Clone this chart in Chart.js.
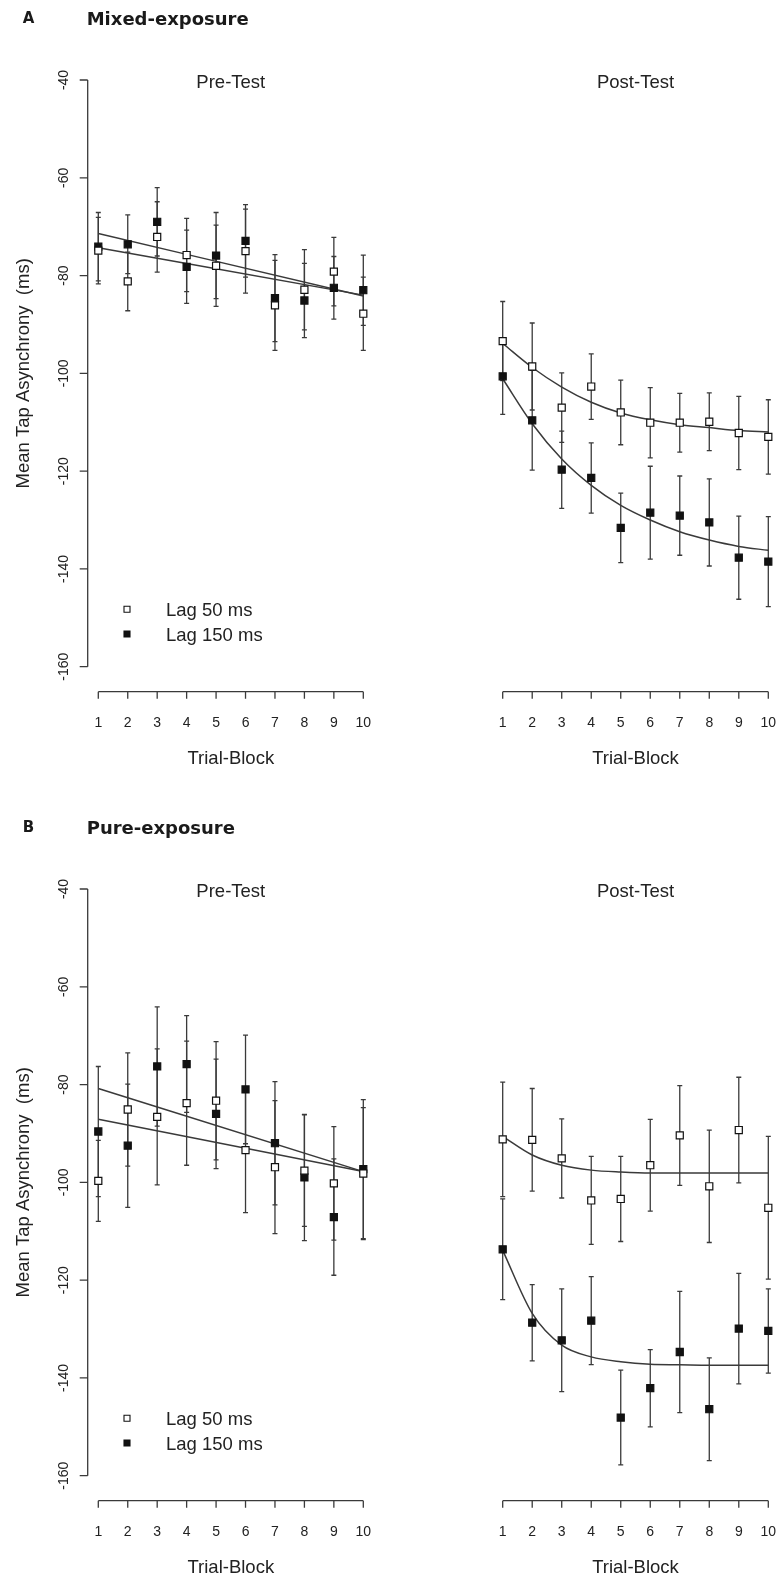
<!DOCTYPE html>
<html>
<head>
<meta charset="utf-8">
<title>Mean Tap Asynchrony</title>
<script src="https://cdn.jsdelivr.net/npm/chart.js@4.4.1/dist/chart.umd.min.js"></script>
<style>
  body { margin: 0; background: #fff; }
  #page { position: relative; width: 778px; height: 1577px; overflow: hidden; background: #fff; }
  canvas { position: absolute; }
</style>
</head>
<body>
<div id="page">
  <canvas id="mixedPre"  style="left:0;top:0"     width="389" height="768"></canvas>
  <canvas id="mixedPost" style="left:389px;top:0" width="389" height="768"></canvas>
  <canvas id="purePre"   style="left:0;top:809px"     width="389" height="768"></canvas>
  <canvas id="purePost"  style="left:389px;top:809px" width="389" height="768"></canvas>
</div>
<script>
// ---- data ----
const trialBlocks = [1, 2, 3, 4, 5, 6, 7, 8, 9, 10];
const yTicks = [-40, -60, -80, -100, -120, -140, -160];
const fitEnds = [1, 10];
const seriesNames = ['Lag 50 ms', 'Lag 150 ms'];

// A: mixed-exposure, pre-test
const mixedPreLag50     = [-74.9, -81.2, -72.1, -75.8, -78.0, -75.0, -86.1, -82.9, -79.2, -87.8];
const mixedPreLag50Err  = [6.8, 6.0, 7.2, 7.5, 8.3, 8.6, 9.2, 8.2, 7.0, 7.5];
const mixedPreLag150    = [-74.1, -73.6, -69.0, -78.2, -75.9, -72.9, -84.6, -85.1, -82.5, -83.0];
const mixedPreLag150Err = [7.0, 6.0, 7.0, 7.5, 8.8, 7.4, 8.9, 7.6, 6.4, 7.2];
const mixedPreFit50  = [-71.4, -84.2];
const mixedPreFit150 = [-74.3, -84.0];

// A: mixed-exposure, post-test
const mixedPostLag50     = [-93.4, -98.6, -107.0, -102.7, -108.0, -110.1, -110.1, -109.9, -112.2, -113.0];
const mixedPostLag50Err  = [8.1, 8.9, 7.1, 6.7, 6.6, 7.2, 6.0, 5.9, 7.5, 7.6];
const mixedPostLag150    = [-100.6, -109.6, -119.7, -121.4, -131.6, -128.5, -129.1, -130.5, -137.7, -138.5];
const mixedPostLag150Err = [7.8, 10.2, 7.9, 7.2, 7.1, 9.5, 8.1, 8.9, 8.5, 9.2];
const mixedPostFit50  = [-93.9, -98.8, -102.8, -105.9, -108.1, -109.5, -110.5, -111.1, -111.7, -112.0];
const mixedPostFit150 = [-101.1, -110.3, -117.5, -122.9, -127.0, -130.0, -132.4, -134.1, -135.4, -136.2];

// B: pure-exposure, pre-test
const purePreLag50     = [-99.7, -85.1, -86.6, -83.8, -83.3, -93.4, -96.9, -97.6, -100.2, -98.2];
const purePreLag50Err  = [8.3, 11.6, 13.9, 12.7, 12.1, 12.8, 13.6, 11.4, 11.6, 13.5];
const purePreLag150    = [-89.6, -92.5, -76.3, -75.8, -86.0, -81.0, -92.0, -99.0, -107.1, -97.3];
const purePreLag150Err = [13.3, 12.6, 12.2, 9.9, 11.2, 11.1, 12.6, 12.9, 11.9, 14.2];
const purePreFit50  = [-87.1, -97.8];
const purePreFit150 = [-80.8, -97.8];

// B: pure-exposure, post-test
const purePostLag50     = [-91.2, -91.3, -95.1, -103.7, -103.4, -96.5, -90.4, -100.8, -89.3, -105.2];
const purePostLag50Err  = [11.7, 10.5, 8.1, 9.0, 8.7, 9.4, 10.2, 11.5, 10.8, 14.6];
const purePostLag150    = [-113.7, -128.7, -132.3, -128.3, -148.1, -142.1, -134.7, -146.4, -129.9, -130.4];
const purePostLag150Err = [10.3, 7.8, 10.5, 9.0, 9.7, 7.9, 12.4, 10.5, 11.3, 8.6];
const purePostFit50  = [-90.6, -94.4, -96.5, -97.5, -97.9, -98.1, -98.1, -98.1, -98.1, -98.1];
const purePostFit150 = [-113.9, -126.8, -133.3, -135.7, -136.7, -137.2, -137.3, -137.4, -137.4, -137.4];

const INK = '#222';
const LINE = '#3a3a3a';
const SANS = '"Liberation Sans", Arial, sans-serif';

function pts(xs, ys) {
  return xs.map((x, i) => ({ x: x, y: ys[i] }));
}

// error bars go under the markers
function drawErrorBars(chart) {
  const ctx = chart.ctx, xs = chart.scales.x, ys = chart.scales.y;
  ctx.save();
  ctx.strokeStyle = LINE;
  ctx.lineWidth = 1.3;
  chart.data.datasets.forEach(ds => {
    if (!ds.err) return;
    ds.data.forEach((p, i) => {
      const px = xs.getPixelForValue(p.x);
      const top = ys.getPixelForValue(p.y + ds.err[i]);
      const bot = ys.getPixelForValue(p.y - ds.err[i]);
      ctx.beginPath();
      ctx.moveTo(px, top); ctx.lineTo(px, bot);
      ctx.moveTo(px - 2.5, top); ctx.lineTo(px + 2.5, top);
      ctx.moveTo(px - 2.5, bot); ctx.lineTo(px + 2.5, bot);
      ctx.stroke();
    });
  });
  ctx.restore();
}

// R style detached axes, titles and legend
function drawFrame(chart, o) {
  const ctx = chart.ctx, xs = chart.scales.x, ys = chart.scales.y, area = chart.chartArea;
  ctx.save();
  ctx.strokeStyle = LINE;
  ctx.fillStyle = INK;
  ctx.lineWidth = 1.3;

  // x axis
  const ay = area.bottom + 25;
  const x0 = xs.getPixelForValue(trialBlocks[0]);
  const x1 = xs.getPixelForValue(trialBlocks[trialBlocks.length - 1]);
  ctx.beginPath();
  ctx.moveTo(x0, ay); ctx.lineTo(x1, ay);
  trialBlocks.forEach(t => {
    const px = xs.getPixelForValue(t);
    ctx.moveTo(px, ay); ctx.lineTo(px, ay + 7);
  });
  ctx.stroke();
  ctx.textAlign = 'center';
  ctx.textBaseline = 'alphabetic';
  ctx.font = '14px ' + SANS;
  trialBlocks.forEach(t => ctx.fillText(String(t), xs.getPixelForValue(t), ay + 35));
  ctx.font = '18.5px ' + SANS;
  ctx.fillText('Trial-Block', (x0 + x1) / 2, ay + 72);

  // panel title
  ctx.fillText(o.title, (area.left + area.right) / 2, area.top + 7.5);

  if (o.yAxis) {
    const yx = area.left - 10.6;
    const yTop = ys.getPixelForValue(yTicks[0]);
    const yBot = ys.getPixelForValue(yTicks[yTicks.length - 1]);
    ctx.beginPath();
    ctx.moveTo(yx, yTop); ctx.lineTo(yx, yBot);
    yTicks.forEach(v => {
      const py = ys.getPixelForValue(v);
      ctx.moveTo(yx, py); ctx.lineTo(yx - 8, py);
    });
    ctx.stroke();
    ctx.font = '14px ' + SANS;
    yTicks.forEach(v => {
      ctx.save();
      ctx.translate(yx - 19.4, ys.getPixelForValue(v));
      ctx.rotate(-Math.PI / 2);
      ctx.fillText(String(v), 0, 0);
      ctx.restore();
    });
    ctx.font = '18.5px ' + SANS;
    ctx.save();
    ctx.translate(29.3, (yTop + yBot) / 2);
    ctx.rotate(-Math.PI / 2);
    ctx.fillText('Mean Tap Asynchrony  (ms)', 0, 0);
    ctx.restore();

    // legend
    const lx = area.left + 28.7;
    const rows = [area.bottom - 57.4, area.bottom - 32.7];
    ctx.lineWidth = 1.1;
    seriesNames.forEach((name, i) => {
      ctx.beginPath();
      ctx.rect(lx - 3, rows[i] - 3, 6, 6);
      if (i === 1) { ctx.fillStyle = '#111'; ctx.fill(); }
      ctx.strokeStyle = '#111';
      ctx.stroke();
      ctx.fillStyle = INK;
      ctx.textAlign = 'left';
      ctx.fillText(name, area.left + 67.7, rows[i] + 7);
    });
  }

  if (o.heading) {
    ctx.textAlign = 'left';
    ctx.fillStyle = '#1a1a1a';
    ctx.font = 'bold 15px "DejaVu Sans", Verdana, sans-serif';
    ctx.fillText(o.heading[0], 22.7, 22.7);
    ctx.font = 'bold 18px "DejaVu Sans", Verdana, sans-serif';
    ctx.fillText(o.heading[1], 86.7, 24.6);
  }
  ctx.restore();
}

const rFrame = {
  id: 'rFrame',
  beforeDatasetsDraw(chart, args, opts) { drawErrorBars(chart); },
  afterDraw(chart, args, opts) { drawFrame(chart, opts); }
};

function makeChart(id, lag50, err50, lag150, err150, fitX, fit50, fit150, frame) {
  const pad = frame.yAxis
    ? { left: 98.3, right: 25.7, top: 80, bottom: 101.3 }
    : { left: 113.7, right: 9.7, top: 80, bottom: 101.3 };
  return new Chart(document.getElementById(id), {
    type: 'scatter',
    data: {
      datasets: [
        {
          label: seriesNames[0], data: pts(trialBlocks, lag50), err: err50, order: 0,
          pointStyle: 'rect', pointRadius: 5, pointBorderWidth: 1.2,
          pointBackgroundColor: '#fff', pointBorderColor: '#111', clip: false
        },
        {
          label: seriesNames[1], data: pts(trialBlocks, lag150), err: err150, order: 0,
          pointStyle: 'rect', pointRadius: 5, pointBorderWidth: 1.2,
          pointBackgroundColor: '#111', pointBorderColor: '#111', clip: false
        },
        {
          label: 'fit 50', data: pts(fitX, fit50), showLine: true, order: 1,
          pointRadius: 0, borderColor: LINE, borderWidth: 1.5,
          cubicInterpolationMode: 'monotone', clip: false
        },
        {
          label: 'fit 150', data: pts(fitX, fit150), showLine: true, order: 1,
          pointRadius: 0, borderColor: LINE, borderWidth: 1.5,
          cubicInterpolationMode: 'monotone', clip: false
        }
      ]
    },
    options: {
      responsive: false,
      animation: false,
      events: [],
      layout: { padding: pad },
      scales: {
        x: { type: 'linear', min: 1, max: 10, display: false },
        y: { type: 'linear', min: -160, max: -40, display: false }
      },
      plugins: {
        legend: { display: false },
        tooltip: { enabled: false },
        rFrame: frame
      }
    },
    plugins: [rFrame]
  });
}

makeChart('mixedPre', mixedPreLag50, mixedPreLag50Err, mixedPreLag150, mixedPreLag150Err,
  fitEnds, mixedPreFit50, mixedPreFit150,
  { title: 'Pre-Test', yAxis: true, heading: ['A', 'Mixed-exposure'] });
makeChart('mixedPost', mixedPostLag50, mixedPostLag50Err, mixedPostLag150, mixedPostLag150Err,
  trialBlocks, mixedPostFit50, mixedPostFit150,
  { title: 'Post-Test', yAxis: false });
makeChart('purePre', purePreLag50, purePreLag50Err, purePreLag150, purePreLag150Err,
  fitEnds, purePreFit50, purePreFit150,
  { title: 'Pre-Test', yAxis: true, heading: ['B', 'Pure-exposure'] });
makeChart('purePost', purePostLag50, purePostLag50Err, purePostLag150, purePostLag150Err,
  trialBlocks, purePostFit50, purePostFit150,
  { title: 'Post-Test', yAxis: false });
</script>
</body>
</html>
